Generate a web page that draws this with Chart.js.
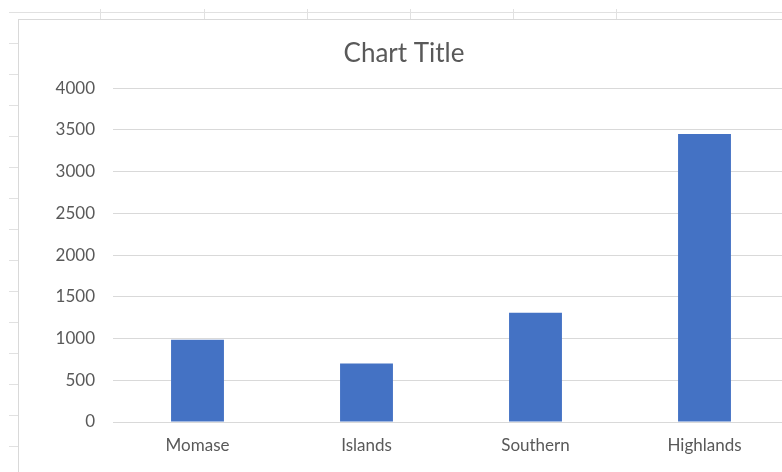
<!DOCTYPE html>
<html>
<head>
<meta charset="utf-8">
<script src="https://cdn.jsdelivr.net/npm/chart.js@4"></script>
<style>
  html, body { margin: 0; padding: 0; background: #fff; overflow: hidden; }
  body { width: 782px; height: 472px; position: relative; }
  .hline { position: absolute; left: 9px; right: 0; top: 12px; height: 1px; background: #e1e1e1; }
  .col { position: absolute; top: 9px; width: 1px; height: 10px; background: #e1e1e1; }
  .row { position: absolute; left: 9px; width: 9px; height: 1px; background: #e1e1e1; }
  #frame { position: absolute; left: 18px; top: 19px; width: 770px; height: 470px;
           border-left: 1px solid #d9d9d9; border-top: 1px solid #d9d9d9; background: #fff; }
  #wrap { position: absolute; left: 0; top: 0; width: 770px; height: 470px; }
</style>
</head>
<body>
<div class="hline"></div>
<div id="frame"><div id="wrap"><canvas id="chart"></canvas></div></div>
<script>
  const regions = ["Momase", "Islands", "Southern", "Highlands"];
  const values = [985, 700, 1310, 3450];
  const yTicks = [0, 500, 1000, 1500, 2000, 2500, 3000, 3500, 4000];

  // spreadsheet grid behind the chart
  [100, 204, 307, 410, 513, 616].forEach(function (x) {
    const d = document.createElement("div");
    d.className = "col";
    d.style.left = x + "px";
    document.body.insertBefore(d, document.getElementById("frame"));
  });
  for (let y = 43; y < 472; y += 31) {
    const d = document.createElement("div");
    d.className = "row";
    d.style.top = y + "px";
    document.body.insertBefore(d, document.getElementById("frame"));
  }

  Chart.defaults.font.family = "Lato";
  Chart.defaults.color = "#595959";

  new Chart(document.getElementById("chart"), {
    type: "bar",
    data: {
      labels: regions,
      datasets: [{
        data: values,
        backgroundColor: "#4472C4",
        borderWidth: 0,
        categoryPercentage: 1,
        barPercentage: 0.313,
      }],
    },
    options: {
      responsive: true,
      maintainAspectRatio: false,
      animation: false,
      layout: { padding: 0 },
      plugins: {
        legend: { display: false },
        tooltip: { enabled: false },
        title: {
          display: true,
          text: "Chart Title",
          color: "#595959",
          font: { size: 26, weight: "normal" },
          padding: { top: 18, bottom: 19 },
        },
      },
      scales: {
        x: {
          grid: { display: false, drawTicks: false },
          border: { display: true, color: "#d9d9d9", width: 1 },
          ticks: { font: { size: 17 }, padding: 13, color: "#595959" },
          afterFit: (scale) => { scale.height = 68; },
        },
        y: {
          min: 0,
          max: 4000,
          afterBuildTicks: (scale) => {
            scale.ticks = yTicks.map((v) => ({ value: v }));
          },
          grid: { color: "#d9d9d9", lineWidth: 1, drawTicks: false },
          border: { display: false },
          ticks: {
            font: { size: 17 },
            padding: 18,
            color: "#595959",
            callback: (value) => String(value),
          },
          afterFit: (scale) => { scale.width = 94; },
        },
      },
    },
  });
</script>
</body>
</html>
